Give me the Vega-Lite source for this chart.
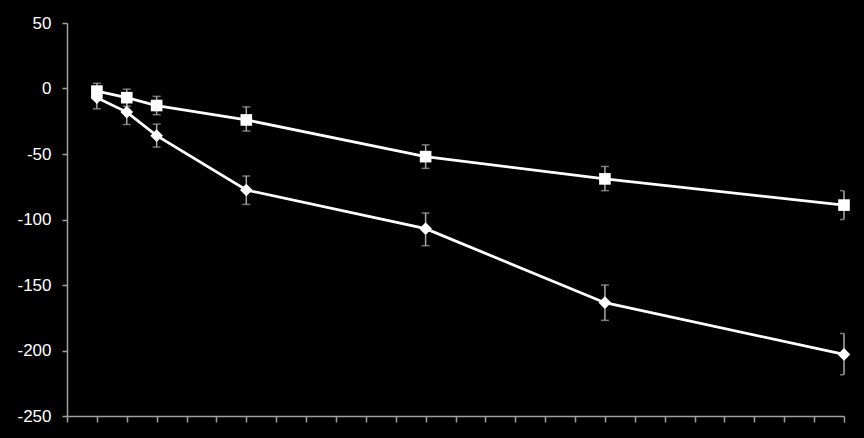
{
  "$schema": "https://vega.github.io/schema/vega-lite/v6.json",
  "width": 777,
  "height": 393,
  "autosize": "none",
  "padding": {"left": 67, "top": 23, "right": 20, "bottom": 22},
  "background": "#000000",
  "config": {
    "view": {"stroke": null},
    "axis": {
      "domainColor": "#a0a0a0",
      "tickColor": "#a0a0a0",
      "domainWidth": 1.5,
      "tickWidth": 1.5,
      "grid": false,
      "labelColor": "#ffffff",
      "labelFont": "Liberation Sans",
      "labelFontSize": 17,
      "title": null
    }
  },
  "data": {
    "values": [
      {"series": "A", "week": 1, "mean": -2, "lo": -8, "hi": 4},
      {"series": "A", "week": 2, "mean": -7, "lo": -13.5, "hi": -0.5},
      {"series": "A", "week": 3, "mean": -13, "lo": -20, "hi": -6},
      {"series": "A", "week": 6, "mean": -24, "lo": -32.5, "hi": -14},
      {"series": "A", "week": 12, "mean": -52, "lo": -61, "hi": -43},
      {"series": "A", "week": 18, "mean": -69, "lo": -78, "hi": -59.5},
      {"series": "A", "week": 26, "mean": -89, "lo": -100, "hi": -78},
      {"series": "B", "week": 1, "mean": -7, "lo": -15.5, "hi": 1.5},
      {"series": "B", "week": 2, "mean": -18, "lo": -27.5, "hi": -8},
      {"series": "B", "week": 3, "mean": -36, "lo": -44.7, "hi": -27.2},
      {"series": "B", "week": 6, "mean": -77.5, "lo": -88.5, "hi": -66.8},
      {"series": "B", "week": 12, "mean": -107, "lo": -120, "hi": -95},
      {"series": "B", "week": 18, "mean": -163.5, "lo": -177, "hi": -150},
      {"series": "B", "week": 26, "mean": -203, "lo": -218.5, "hi": -187}
    ]
  },
  "encoding": {
    "x": {
      "field": "week",
      "type": "quantitative",
      "scale": {"domain": [0, 26], "nice": false, "zero": false},
      "axis": {
        "values": [0,1,2,3,4,5,6,7,8,9,10,11,12,13,14,15,16,17,18,19,20,21,22,23,24,25,26],
        "labels": false,
        "tickSize": 6
      }
    }
  },
  "layer": [
    {
      "mark": {"type": "rule", "color": "#a8a8a8", "strokeWidth": 1.5},
      "encoding": {
        "y": {
          "field": "lo",
          "type": "quantitative",
          "scale": {"domain": [-250, 50], "nice": false},
          "axis": {
            "values": [-250, -200, -150, -100, -50, 0, 50],
            "labelExpr": "replace(datum.label, '−', '-')",
            "tickSize": 5,
            "labelPadding": 11
          }
        },
        "y2": {"field": "hi"}
      }
    },
    {
      "mark": {"type": "tick", "orient": "horizontal", "color": "#a8a8a8", "thickness": 1.5, "size": 8, "clip": true},
      "encoding": {"y": {"field": "lo", "type": "quantitative"}}
    },
    {
      "mark": {"type": "tick", "orient": "horizontal", "color": "#a8a8a8", "thickness": 1.5, "size": 8, "clip": true},
      "encoding": {"y": {"field": "hi", "type": "quantitative"}}
    },
    {
      "mark": {"type": "line", "color": "#ffffff", "strokeWidth": 2.8},
      "encoding": {
        "y": {"field": "mean", "type": "quantitative"},
        "detail": {"field": "series"}
      }
    },
    {
      "mark": {"type": "point", "filled": true, "opacity": 1, "color": "#ffffff"},
      "encoding": {
        "y": {"field": "mean", "type": "quantitative"},
        "shape": {
          "field": "series",
          "scale": {"domain": ["A", "B"], "range": ["square", "diamond"]},
          "legend": null
        },
        "size": {
          "field": "series",
          "scale": {"domain": ["A", "B"], "range": [135, 160]},
          "legend": null
        }
      }
    }
  ]
}
